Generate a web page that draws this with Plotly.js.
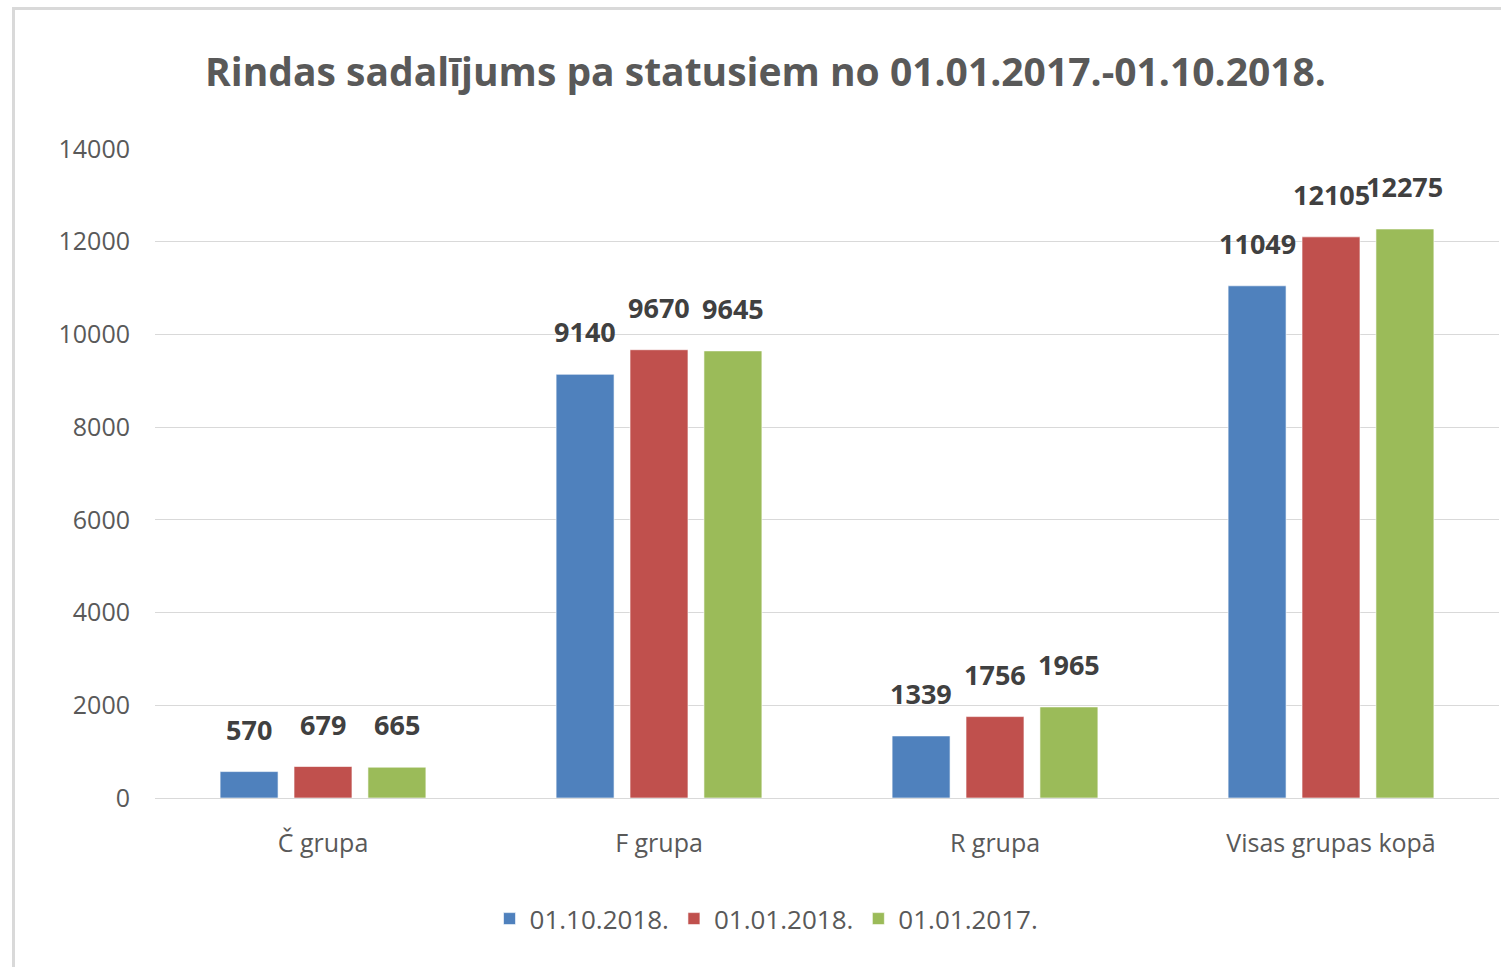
<!DOCTYPE html>
<html>
<head>
<meta charset="utf-8">
<script src="https://cdn.plot.ly/plotly-3.0.1.min.js"></script>
<style>
  html, body { margin: 0; padding: 0; background: #fff; }
  #frame { position: absolute; left: 12px; top: 7px; width: 1495px; height: 970px;
           border-left: 3px solid #d9d9d9; border-top: 3px solid #d9d9d9; }
  #chart { position: absolute; left: 0; top: 0; width: 1501px; height: 967px; }
</style>
</head>
<body>
<div id="frame"></div>
<div id="chart"></div>
<script>
const categories = ["Č grupa", "F grupa", "R grupa", "Visas grupas kopā"];
const seriesNames = ["01.10.2018.", "01.01.2018.", "01.01.2017."];
const values_2018_10 = [570, 9140, 1339, 11049];
const values_2018_01 = [679, 9670, 1756, 12105];
const values_2017_01 = [665, 9645, 1965, 12275];
const colors = ["#4F81BD", "#C0504D", "#9BBB59"];
const yTicks = [0, 2000, 4000, 6000, 8000, 10000, 12000, 14000];

const W = 1501, H = 967;
const margin = { l: 155, r: 2, t: 149, b: 169 };
const bargap = 0.34, bargroupgap = 0.216;

const allValues = [values_2018_10, values_2018_01, values_2017_01];
const traces = allValues.map((vals, i) => ({
  type: "bar",
  name: seriesNames[i],
  x: categories,
  y: vals,
  marker: { color: colors[i], line: { color: "rgba(255,255,255,0.6)", width: 1 } },
  hoverinfo: "x+y"
}));

// data labels as annotations, positioned via the axes
const catWidth = (W - margin.l - margin.r) / categories.length;
const slot = catWidth * (1 - bargap) / allValues.length;
const annotations = [];
allValues.forEach((vals, i) => {
  const shift = (i - (allValues.length - 1) / 2) * slot;
  vals.forEach((v, j) => {
    annotations.push({
      x: categories[j], y: v, xref: "x", yref: "y",
      text: String(v), showarrow: false,
      xshift: shift, yshift: 22, yanchor: "bottom",
      font: { family: "Open Sans, sans-serif", size: 27, color: "#404040", weight: "bold" }
    });
  });
});

const layout = {
  width: W,
  height: H,
  paper_bgcolor: "rgba(0,0,0,0)",
  plot_bgcolor: "rgba(0,0,0,0)",
  margin: margin,
  barmode: "group",
  bargap: bargap,
  bargroupgap: bargroupgap,
  annotations: annotations,
  title: {
    text: "Rindas sadalījums pa statusiem no 01.01.2017.-01.10.2018.",
    font: { family: "Open Sans, sans-serif", size: 39, color: "#595959", weight: "bold" },
    x: 0.51, xref: "container", xanchor: "center",
    y: 0.925, yref: "container", yanchor: "middle"
  },
  xaxis: {
    type: "category",
    showgrid: false,
    showline: true,
    linecolor: "#d9d9d9",
    linewidth: 1,
    ticks: "",
    tickfont: { family: "Open Sans, sans-serif", size: 25, color: "#595959" },
    ticklabelstandoff: 23
  },
  yaxis: {
    range: [0, 14000],
    tickvals: yTicks,
    ticktext: yTicks.map(String),
    showgrid: true,
    gridcolor: "#d9d9d9",
    gridwidth: 1,
    zeroline: false,
    showline: false,
    ticks: "",
    tickfont: { family: "Open Sans, sans-serif", size: 25, color: "#595959" },
    ticklabelstandoff: 24
  },
  legend: {
    orientation: "h",
    x: 0.455, xanchor: "center",
    y: -0.186, yanchor: "middle",
    font: { family: "Open Sans, sans-serif", size: 26, color: "#595959" },
    itemwidth: 30,
    tracegroupgap: 0
  },
  showlegend: true
};

Plotly.newPlot("chart", traces, layout, { displayModeBar: false, staticPlot: true });
</script>
</body>
</html>
